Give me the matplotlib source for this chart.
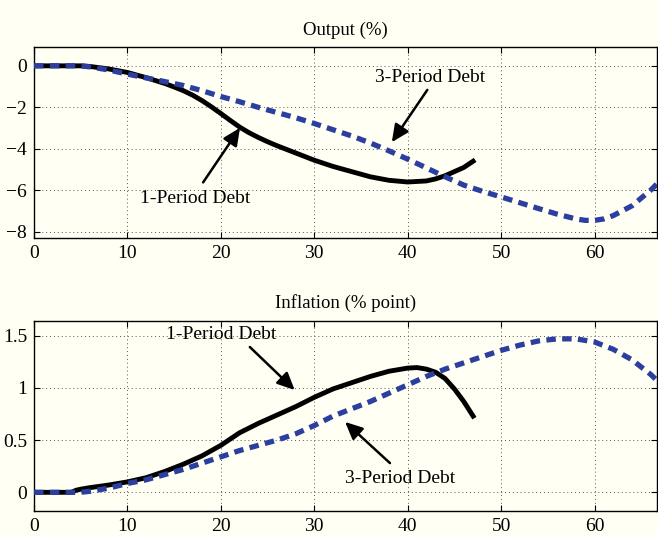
import matplotlib.pyplot as plt

plt.rcParams['font.family'] = ['Liberation Serif', 'DejaVu Serif']
plt.rcParams['font.size'] = 14

# output (%)
out_x1 = [0, 2, 4, 5, 6, 8, 10, 12, 14, 15, 16, 17, 18, 19, 20, 21, 22, 23, 24, 25, 26, 28, 30, 32, 34, 36, 38,
          40, 42, 43, 44, 45, 46, 47]
out_y1 = [0, 0, 0, 0, -0.03, -0.15, -0.32, -0.57, -0.85, -1.02, -1.2, -1.42, -1.68, -1.98, -2.3, -2.63, -2.95,
          -3.22, -3.45, -3.66, -3.85, -4.2, -4.55, -4.85, -5.1, -5.35, -5.52, -5.6, -5.55, -5.45, -5.3, -5.1, -4.9,
          -4.6]
out_x3 = [0, 2, 4, 5, 6, 8, 10, 12, 14, 16, 18, 20, 22, 24, 26, 28, 30, 32, 34, 36, 38, 40, 42, 44, 46, 48, 50,
          52, 54, 56, 58, 59, 60, 61, 62, 64, 66, 66.7]
out_y3 = [0, 0, 0, 0, -0.05, -0.2, -0.4, -0.58, -0.76, -0.95, -1.2, -1.48, -1.73, -2.0, -2.25, -2.5, -2.78, -3.08,
          -3.38, -3.72, -4.1, -4.5, -4.92, -5.35, -5.75, -6.05, -6.32, -6.6, -6.88, -7.15, -7.38, -7.45, -7.45,
          -7.38, -7.22, -6.75, -6.0, -5.68]

# inflation (% point)
inf_x1 = [0, 2, 4, 4.5, 5, 6, 8, 10, 12, 14, 16, 18, 20, 22, 24, 26, 28, 30, 32, 34, 36, 38, 40, 41, 42, 43, 44,
          45, 46, 47]
inf_y1 = [0, 0, 0, 0.02, 0.03, 0.045, 0.07, 0.1, 0.14, 0.2, 0.27, 0.35, 0.45, 0.57, 0.66, 0.74, 0.82, 0.91, 0.99,
          1.05, 1.11, 1.16, 1.19, 1.195, 1.18, 1.15, 1.09, 0.99, 0.87, 0.73]
inf_x3 = [0, 2, 4, 5, 6, 8, 10, 12, 14, 16, 18, 20, 22, 24, 26, 28, 30, 32, 34, 36, 38, 40, 42, 44, 46, 48, 50,
          52, 54, 56, 58, 60, 62, 64, 66, 66.7]
inf_y3 = [0, 0, 0, 0, 0.01, 0.04, 0.085, 0.12, 0.17, 0.22, 0.28, 0.34, 0.4, 0.45, 0.5, 0.56, 0.64, 0.73, 0.8, 0.87,
          0.95, 1.03, 1.11, 1.18, 1.24, 1.3, 1.36, 1.41, 1.45, 1.47, 1.47, 1.44, 1.37, 1.27, 1.13, 1.07]

bg = '#fffff4'
blue = '#2c3f9e'

fig = plt.figure(figsize=(6.58, 5.36), dpi=100, facecolor=bg)
ax1 = fig.add_axes([0.0517, 0.556, 0.947, 0.356])
ax2 = fig.add_axes([0.0517, 0.0472, 0.947, 0.3545])

for ax in (ax1, ax2):
    ax.set_facecolor(bg)
    ax.grid(True, linestyle=(0, (1, 3)), color='#555555', linewidth=0.7)
    ax.tick_params(direction='in', top=True, right=True, length=4, width=0.8, pad=5)
    for s in ax.spines.values():
        s.set_linewidth(1.0)
    ax.set_xlim(0, 66.7)
    ax.set_xticks([0, 10, 20, 30, 40, 50, 60])

arrow = dict(arrowstyle='-|>,head_length=0.75,head_width=0.35', color='black', lw=1.8,
             shrinkA=0, shrinkB=0)

# 上图: output
ax1.plot(out_x3, out_y3, color=blue, lw=3.8, linestyle=(0, (1.8, 1.2)), zorder=3)
ax1.plot(out_x1, out_y1, color='black', lw=3.5, zorder=2)
ax1.set_ylim(-8.3, 0.9)
ax1.set_yticks([0, -2, -4, -6, -8])
ax1.set_title('Output (%)', fontsize=13.5, pad=9)
ax1.text(17.2, -6.4, '1-Period Debt', ha='center', va='center')
ax1.annotate('', xy=(22.05, -2.99), xytext=(18.1, -5.62), arrowprops=arrow)
ax1.text(42.4, -0.58, '3-Period Debt', ha='center', va='center')
ax1.annotate('', xy=(38.3, -3.68), xytext=(42.1, -1.16), arrowprops=arrow)

# 下图: inflation
ax2.plot(inf_x3, inf_y3, color=blue, lw=3.8, linestyle=(0, (1.8, 1.2)), zorder=3)
ax2.plot(inf_x1, inf_y1, color='black', lw=3.5, zorder=2)
ax2.set_ylim(-0.176, 1.644)
ax2.set_yticks([0, 0.5, 1, 1.5])
ax2.set_yticklabels(['0', '0.5', '1', '1.5'])
ax2.set_title('Inflation (% point)', fontsize=13.5, pad=9)
ax2.text(20.0, 1.507, '1-Period Debt', ha='center', va='center')
ax2.annotate('', xy=(27.9, 0.98), xytext=(23.1, 1.392), arrowprops=arrow)
ax2.text(39.2, 0.137, '3-Period Debt', ha='center', va='center')
ax2.annotate('', xy=(33.3, 0.674), xytext=(38.1, 0.28), arrowprops=arrow)

fig.savefig('out.png', dpi=100, facecolor=bg)
